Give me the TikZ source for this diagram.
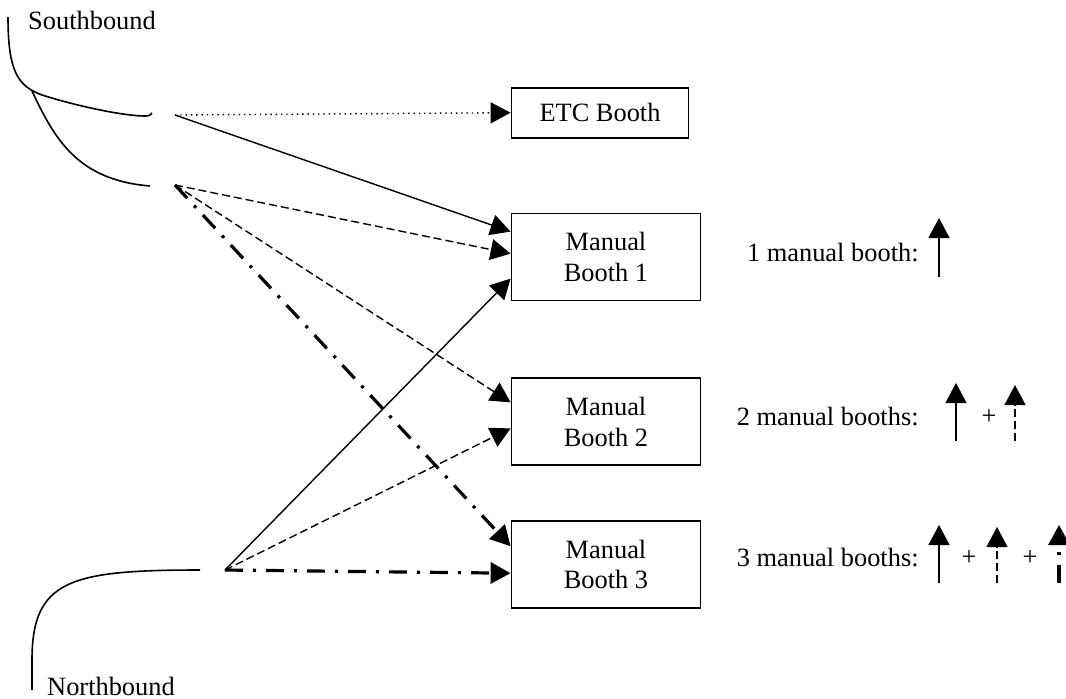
\documentclass[tikz,border=0pt]{standalone}
\usepackage{fontspec}
\setmainfont{Liberation Serif}
\usetikzlibrary{positioning,arrows.meta,calc}

\begin{document}
\begin{tikzpicture}[
  x=0.5pt, y=-0.5pt,
  >={Triangle[length=10pt,width=10.5pt]},
  every node/.style={font=\fontsize{13.2}{15.2}\selectfont},
  booth/.style={draw,line width=0.9pt,align=center,inner sep=0pt,
                minimum width=94.5pt,minimum height=43.5pt},
  plainline/.style={->,line width=0.7pt},
  dashline/.style={->,line width=0.7pt,dash pattern=on 4pt off 2pt},
  dotline/.style={->,line width=0.7pt,dash pattern=on 0.7pt off 1.95pt},
  dashdotline/.style={->,line width=1.6pt,
                      dash pattern=on 9pt off 5pt on 1.5pt off 5pt},
  road/.style={line width=0.8pt}
]
\useasboundingbox (0,0) rectangle (1066,698);

% booths
\node[booth] (b1) at (606,257) {Manual\\Booth 1};
\node[booth,below=38pt of b1] (b2) {Manual\\Booth 2};
\node[booth,below=27pt of b2] (b3) {Manual\\Booth 3};
\node[booth,minimum width=88.5pt,minimum height=25pt,
      above=37pt of b1.north west,anchor=south west] (etc) {ETC Booth};

% roads
\node (south) at (92,20) {Southbound};
\node[inner sep=0pt] (north) at (111,686) {Northbound};
\draw[road] (8,17) .. controls (8,72) and (18,86) .. (42,95)
  .. controls (80,107) and (125,116) .. (145,116)
  .. controls (149,116) and (151,115) .. (152,113);
\draw[road] (32,91) .. controls (55,140) and (78,180) .. (150,186);
\draw[road] (200,570) .. controls (70,570) and (32,580) .. (32,660) -- (32,690);

\coordinate (sUp) at (175,115);
\coordinate (sLo) at (175,185);
\coordinate (nth) at (225,570);

% lanes
\draw[dotline] (sUp) -- (etc.west);
\draw[plainline] (sUp) -- ($(b1.north west)+(0,19)$);
\draw[dashline] (sLo) -- ($(b1.north west)+(0,41)$);
\draw[dashline] (sLo) -- ($(b2.north west)+(0,25)$);
\draw[dashdotline] (sLo) -- ($(b3.north west)+(0,26)$);
\draw[plainline] (nth) -- ($(b1.north west)+(0,66)$);
\draw[dashline] (nth) -- ($(b2.north west)+(0,51)$);
\draw[dashdotline] (nth) -- ($(b3.north west)+(0,53)$);

% legend
\node[anchor=east,inner sep=0pt] (leg1) at (919,253) {1 manual booth:};
\node[anchor=east,inner sep=0pt] (leg2) at (919,417) {2 manual booths:};
\node[anchor=east,inner sep=0pt] (leg3) at (919,558) {3 manual booths:};
\node (p2) at (989,417) {+};
\node (p3a) at (969,558) {+};
\node (p3b) at (1030,558) {+};

\coordinate (k1b) at (939,277);   \coordinate (k1t) at (939,218);
\coordinate (k2b) at (956,441);   \coordinate (k2t) at (956,383);
\coordinate (k3b) at (1015,441);  \coordinate (k3t) at (1015,385);
\coordinate (k4b) at (939,583);   \coordinate (k4t) at (939,525);
\coordinate (k5b) at (997,583);   \coordinate (k5t) at (997,527);
\coordinate (k6b) at (1059,583);  \coordinate (k6t) at (1059,525);
\draw[plainline] (k1b) -- (k1t);
\draw[plainline] (k2b) -- (k2t);
\draw[dashline] (k3b) -- (k3t);
\draw[plainline] (k4b) -- (k4t);
\draw[dashline] (k5b) -- (k5t);
\draw[dashdotline] (k6b) -- (k6t);
\end{tikzpicture}
\end{document}
